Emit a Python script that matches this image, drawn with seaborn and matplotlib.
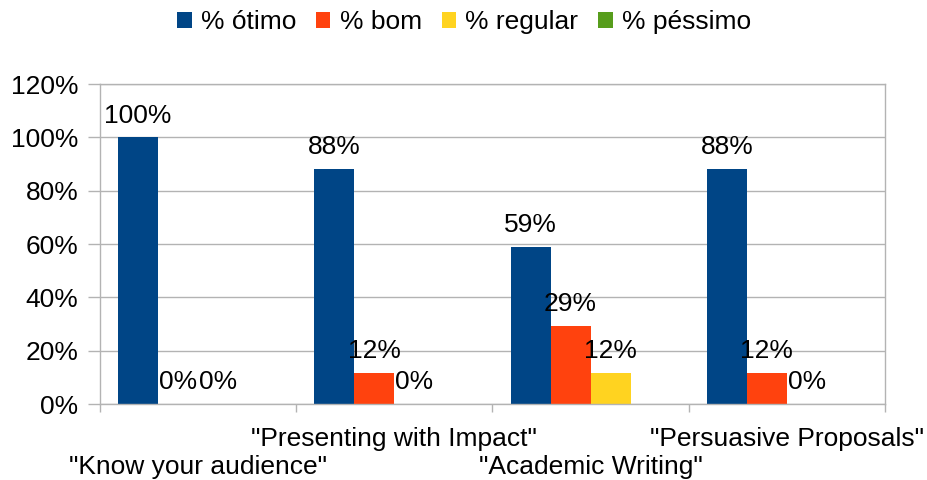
import matplotlib
matplotlib.use("Agg")
import matplotlib.pyplot as plt
import matplotlib.transforms as mtransforms
import seaborn as sns
import pandas as pd
import numpy as np
from matplotlib.patches import Patch
from matplotlib.ticker import FixedLocator, PercentFormatter

categories = ['"Know your audience"', '"Presenting with Impact"',
              '"Academic Writing"', '"Persuasive Proposals"']
series = ["% ótimo", "% bom", "% regular", "% péssimo"]
otimo = [100.0, 88.2, 58.8, 88.2]
bom = [0.0, 11.8, 29.4, 11.8]
regular = [0.0, 0.0, 11.8, 0.0]
pessimo = [np.nan, np.nan, np.nan, np.nan]
colors = ["#004586", "#ff420e", "#ffd320", "#579d1c"]

rows = []
for s, vals in zip(series, [otimo, bom, regular, pessimo]):
    for c, v in zip(categories, vals):
        rows.append({"cat": c, "serie": s, "val": v})
df = pd.DataFrame(rows)

sns.set_style("white")
plt.rcParams["font.family"] = ["Liberation Sans", "DejaVu Sans"]
plt.rcParams["text.color"] = "black"
FS = 19

fig = plt.figure(figsize=(9.28, 4.8), dpi=100)
ax = fig.add_axes([100 / 928, 1 - 404 / 480, (885 - 100) / 928, (404 - 84) / 480])

plot_df = df.copy()
plot_df["val"] = plot_df["val"].fillna(0)
sns.barplot(data=plot_df, x="cat", y="val", hue="serie", order=categories,
            hue_order=series, palette=colors, width=0.816, saturation=1,
            edgecolor="none", linewidth=0, legend=False, ax=ax)

# data labels
for si, cont in enumerate(ax.containers):
    vals = [otimo, bom, regular, pessimo][si]
    labels = ["" if np.isnan(v) else f"{v:.0f}%" for v in vals]
    ax.bar_label(cont, labels=labels, padding=7, fontsize=FS, color="black")

ax.set_ylim(0, 120)
ax.set_xlim(-0.5, 3.5)
ax.yaxis.set_major_locator(FixedLocator([0, 20, 40, 60, 80, 100, 120]))
ax.yaxis.set_major_formatter(PercentFormatter(decimals=0))
ax.grid(axis="y", color="#b3b3b3", linewidth=1)
ax.set_axisbelow(True)
for sp in ax.spines.values():
    sp.set_color("#b3b3b3")
    sp.set_linewidth(1)

ax.tick_params(axis="y", which="major", length=8.6, color="#b3b3b3", width=1,
               labelsize=FS, pad=7, left=True, labelcolor="black")
ax.set_xticks(range(len(categories)))
ax.set_xticklabels(categories, fontsize=FS)
ax.tick_params(axis="x", which="major", length=0, pad=25, labelcolor="black")
ax.xaxis.set_minor_locator(FixedLocator([-0.5, 0.5, 1.5, 2.5, 3.5]))
ax.tick_params(axis="x", which="minor", length=6, color="#b3b3b3", width=1, bottom=True)
ax.set_xlabel("")
ax.set_ylabel("")

# stagger: even-index labels one row lower
shift = mtransforms.ScaledTranslation(0, -28 / 100, fig.dpi_scale_trans)
for i, t in enumerate(ax.get_xticklabels()):
    t.set_va("center")
    if i % 2 == 0:
        t.set_transform(t.get_transform() + shift)

handles = [Patch(facecolor=c, edgecolor="none") for c in colors]
fig.legend(handles, series, loc="center", bbox_to_anchor=(0.5, 1 - 22 / 480), ncol=4,
           frameon=False, fontsize=FS, handlelength=0.55, handleheight=0.55,
           handletextpad=0.35, columnspacing=0.75, labelcolor="black")

fig.savefig("out.png", dpi=100)
